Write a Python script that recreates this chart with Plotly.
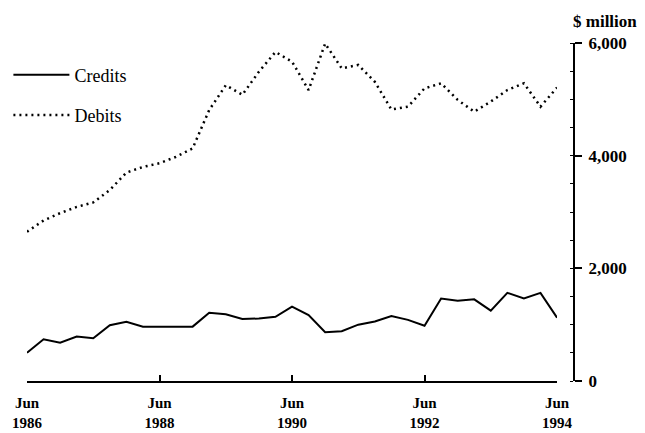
import plotly.graph_objects as go

# Quarterly, Jun 1986 .. Jun 1994 (33 quarters)
quarters = list(range(33))
credits = [500, 740, 680, 790, 760, 990, 1050, 965, 965, 965, 965, 1210, 1185, 1100, 1110, 1140,
           1320, 1170, 865, 885, 1000, 1055, 1155, 1085, 980, 1465, 1425, 1450, 1250, 1565, 1465, 1565, 1125]
debits = [2650, 2850, 2980, 3090, 3170, 3390, 3700, 3800, 3865, 3980, 4130, 4810, 5250, 5080, 5490, 5840,
          5670, 5165, 5990, 5550, 5610, 5310, 4820, 4870, 5195, 5285, 4990, 4780, 4960, 5165, 5285, 4870, 5210]
tick_vals = [0, 8, 16, 24, 32]
tick_text = ["Jun<br>1986", "Jun<br>1988", "Jun<br>1990", "Jun<br>1992", "Jun<br>1994"]
y_ticks = [0, 2000, 4000, 6000]

FONT = "Liberation Serif"

fig = go.Figure()
fig.add_trace(go.Scatter(x=quarters, y=credits, mode="lines", name="Credits",
                         line=dict(color="black", width=2), legendgroup="c"))
fig.add_trace(go.Scatter(x=quarters, y=debits, mode="lines", name="Debits",
                         line=dict(color="black", width=2.5, dash="2px,4px"), legendgroup="d"))

# the page body adds an 8px margin, so the figure is 8px smaller on each axis
fig.update_layout(
    width=637, height=425,
    margin=dict(l=19, r=71, t=35, b=52, autoexpand=False),
    paper_bgcolor="white", plot_bgcolor="white",
    font=dict(family=FONT, size=15, color="black"),
    showlegend=True,
    legend=dict(x=-0.034, y=0.96, xanchor="left", yanchor="top", itemwidth=56,
                tracegroupgap=14, bgcolor="rgba(0,0,0,0)",
                font=dict(family=FONT, size=18, color="black")),
    xaxis=dict(domain=[0, 0.969], range=[0, 32], showgrid=False, zeroline=False,
               automargin=False,
               showline=True, linecolor="black", linewidth=2,
               tickmode="array", tickvals=tick_vals, ticktext=tick_text,
               ticks="inside", ticklen=6, tickwidth=1.5, tickcolor="black",
               ticklabelstandoff=7,
               tickfont=dict(family=FONT, size=15, color="black", weight="bold")),
    yaxis=dict(range=[0, 6000], side="right", anchor="free", position=1.0,
               automargin=False,
               showgrid=False, zeroline=False, showline=True, linecolor="black", linewidth=2,
               tickmode="array", tickvals=y_ticks, tickformat=",",
               ticks="outside", ticklen=7, tickwidth=2, tickcolor="black",
               ticklabelstandoff=3,
               minor=dict(ticks="inside", dtick=500, ticklen=3, tickcolor="black", tickwidth=1),
               tickfont=dict(family=FONT, size=17, color="black", weight="bold")),
    annotations=[dict(text="$ million", xref="paper", yref="paper", x=1.0, y=1.0,
                      xanchor="left", yanchor="bottom", yshift=10, xshift=-3, showarrow=False,
                      font=dict(family=FONT, size=17, color="black", weight="bold"))],
)

fig.write_html("out.html")
